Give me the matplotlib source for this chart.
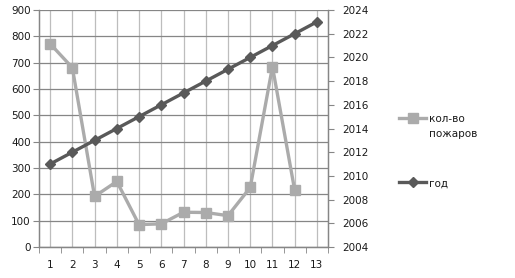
import matplotlib.pyplot as plt
from matplotlib.lines import Line2D

# data
categories = list(range(1, 14))
fires = [772, 681, 192, 249, 85, 88, 132, 131, 119, 226, 685, 215]
years = [2011, 2012, 2013, 2014, 2015, 2016, 2017, 2018, 2019, 2020, 2021, 2022, 2023]

fires_color = '#ABABAB'
years_color = '#595959'
grid_color = '#868686'
text_color = '#1A1A1A'

fig = plt.figure(figsize=(5.15, 2.78), dpi=100)
ax = fig.add_axes([0.0757, 0.1115, 0.5613, 0.8525])
ax2 = ax.twinx()

ax.plot(categories[:len(fires)], fires, color=fires_color, lw=2.4,
        marker='s', ms=6.5, zorder=3)
ax2.plot(categories, years, color=years_color, lw=2.4,
         marker='D', ms=5.5, zorder=3)

# left axis
ax.set_ylim(0, 900)
ax.set_yticks(range(0, 901, 100))
ax.set_xlim(0.5, 13.5)
ax.set_xticks(categories)
ax.set_xticks([c + 0.5 for c in [0] + categories], minor=True)
ax.tick_params(axis='x', which='major', length=0, pad=9, labelsize=7.5, labelcolor=text_color)
ax.tick_params(axis='x', which='minor', length=4, color=grid_color, direction='out')
ax.tick_params(axis='y', length=4, color=grid_color, labelsize=7.5, labelcolor=text_color, pad=2)
ax.grid(axis='y', color=grid_color, lw=0.9)
ax.grid(axis='x', which='major', color='#BDBDBD', lw=0.9)
ax.set_axisbelow(True)

# right axis
ax2.set_ylim(2004, 2024)
ax2.set_yticks(range(2004, 2025, 2))
ax2.tick_params(axis='y', length=4, color=grid_color, labelsize=7.5, labelcolor=text_color, pad=6)

for a in (ax, ax2):
    a.spines['top'].set_visible(False)
    for s in ('left', 'right', 'bottom'):
        a.spines[s].set_color(grid_color)
        a.spines[s].set_linewidth(0.9)

handles = [
    Line2D([], [], color=fires_color, lw=2.4, marker='s', ms=6.5),
    Line2D([], [], color=years_color, lw=2.4, marker='D', ms=5.5),
]
leg = fig.legend(handles, ['кол-во\nпожаров', 'год'], loc='upper left',
                 bbox_to_anchor=(0.757, 0.623), frameon=False, fontsize=7.5,
                 handlelength=2.6, handletextpad=0.3, labelspacing=3.85,
                 labelcolor=text_color)
for t in leg.get_texts():
    t.set_linespacing(1.55)
# put the handle next to the first line of the two-line label
for col in leg._legend_handle_box.get_children():
    for row in col.get_children():
        row.align = 'top'

fig.savefig('out.png', dpi=100)
